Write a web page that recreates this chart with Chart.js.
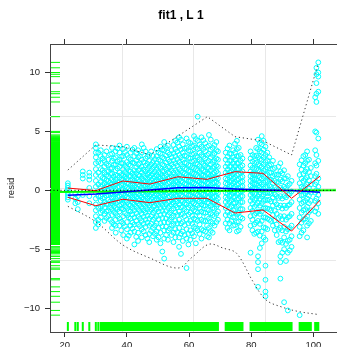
<!DOCTYPE html>
<html>
<head>
<meta charset="utf-8">
<script src="https://cdn.jsdelivr.net/npm/chart.js"></script>
<style>
  html, body { margin: 0; padding: 0; background: #fff; }
</style>
</head>
<body>
<canvas id="resid-chart" width="341" height="347"></canvas>
<script>
// AXES
var xRange = [15.25, 107.3];
var yRange = [-12.03, 12.42];
var xTicks = [20, 40, 60, 80, 100];
var yTicks = [-10, -5, 0, 5, 10];

// RESIDUALS, one column of values per x position
var colX = [
  21.0, 23.4, 24.2, 25.8, 27.9, 30.0, 30.8,
  31.6, 32.2, 32.8, 33.4, 34.0, 34.6, 35.2, 35.8, 36.4, 37.0, 37.6, 38.2, 38.8, 39.4,
  40.0, 40.6, 41.2, 41.8, 42.4, 43.0, 43.6, 44.2, 44.8, 45.4, 46.0, 46.6, 47.2, 47.8,
  48.4, 49.0, 49.6, 50.2, 50.8, 51.4, 52.0, 52.6, 53.2, 53.8, 54.4, 55.0, 55.6, 56.2,
  56.8, 57.4, 58.0, 58.6, 59.2, 59.8, 60.4, 61.0, 61.6, 62.2, 62.8, 63.4, 64.0, 64.6,
  65.2, 65.8, 66.4, 67.0, 67.6, 68.2, 68.8, 69.3,
  71.8, 72.4, 73.0, 73.6, 74.2, 74.8, 75.4, 76.0, 76.6, 77.2,
  79.8, 80.4, 81.0, 81.6, 82.2, 82.8, 83.4, 84.0, 84.6, 85.2, 85.8, 86.4, 87.0, 87.6,
  88.2, 88.8, 89.4, 90.0, 90.6, 91.2, 91.8, 92.4, 93.0,
  95.6, 96.2, 96.8, 97.4, 98.0, 98.6, 99.2,
  100.6, 101.0, 101.6
];
var colY = [
  [0.6, 0.4, 0.2, 0.0, -0.2, -0.4, -0.6, -0.8],
  [-0.3, -0.7, -1.1],
  [-0.5, -1.0, -1.6],
  [1.6, 1.3, 1.0, -0.4],
  [1.5, 1.2, 0.9, 0.2, -0.5, -1.1],
  [3.9, 3.6, 3.2, 2.8, 2.3, 1.8, 1.3, 0.8, 0.3, -0.2, -0.7, -1.2, -1.7, -2.2, -2.7, -3.2],
  [3.2, 2.4, 1.5, 0.5, -0.5, -1.5, -2.5, -2.9],
  // 31.6 .. 39.4
  [3.4, 2.9, 2.3, 1.8, 1.2, 0.7, 0.3, -0.1, -0.5, -0.9, -1.4, -1.9, -2.3],
  [2.7, 1.7, 1.05, 0.45, -0.05, -0.7, -1.25, -1.75],
  [3.0, 2.5, 2.0, 1.5, 1.0, 0.6, 0.2, -0.2, -0.6, -1.0, -1.5, -2.0, -2.6],
  [3.3, 2.25, 1.3, 0.85, 0.35, -0.15, -0.45, -1.15, -1.8, -2.35],
  [2.6, 2.1, 1.6, 1.2, 0.8, 0.4, 0.0, -0.4, -0.8, -1.2, -1.7, -2.2],
  [3.05, 1.85, 1.4, 0.65, 0.25, -0.3, -0.95, -1.45, -2.5],
  [3.6, 3.1, 2.5, 1.9, 1.4, 0.9, 0.5, 0.1, -0.3, -0.7, -1.1, -1.6, -2.1, -2.7, -3.2],
  [2.7, 2.15, 1.15, 0.75, 0.3, -0.15, -0.55, -0.95, -1.35, -1.85, -2.9],
  [3.3, 2.8, 2.2, 1.7, 1.3, 0.9, 0.5, 0.1, -0.3, -0.7, -1.1, -1.5, -2.0, -2.5, -3.0, -3.6],
  [3.55, 2.45, 1.85, 1.25, 0.7, 0.25, -0.2, -0.55, -1.0, -1.6, -2.2],
  [3.8, 3.2, 2.6, 2.0, 1.5, 1.1, 0.7, 0.3, -0.1, -0.5, -0.9, -1.3, -1.8, -2.4, -3.0],
  [2.85, 2.3, 1.3, 0.9, 0.45, 0.05, -0.35, -0.75, -1.2, -1.55, -2.65, -3.4],
  [3.5, 2.9, 2.3, 1.8, 1.3, 0.9, 0.5, 0.1, -0.3, -0.7, -1.1, -1.6, -2.2, -2.8, -3.8],
  [3.25, 2.05, 1.55, 1.15, 0.75, 0.35, -0.05, -0.45, -0.85, -1.35, -1.95, -3.05],
  // 40.0 .. 47.8
  [3.7, 3.0, 2.4, 1.9, 1.4, 1.0, 0.6, 0.2, -0.2, -0.6, -1.0, -1.5, -2.1, -2.7, -3.3, -4.1],
  [2.75, 2.2, 1.65, 1.2, 0.6, 0.15, -0.25, -0.65, -1.2, -1.7, -2.3, -3.85],
  [3.2, 2.6, 2.1, 1.6, 1.2, 0.8, 0.4, 0.0, -0.4, -0.8, -1.3, -1.8, -2.4, -3.0, -3.6],
  [3.45, 2.35, 1.45, 0.95, 0.55, 0.2, -0.2, -0.6, -1.05, -1.5, -2.05, -2.75, -3.25],
  [3.6, 2.9, 2.3, 1.7, 1.2, 0.8, 0.4, 0.0, -0.4, -0.8, -1.2, -1.7, -2.3, -2.9, -3.5, -4.6],
  [3.15, 2.55, 1.95, 1.45, 1.0, 0.6, 0.2, -0.2, -0.55, -0.95, -1.4, -1.95, -2.6, -3.95],
  [3.4, 2.8, 2.2, 1.7, 1.3, 0.9, 0.5, 0.1, -0.3, -0.7, -1.1, -1.6, -2.2, -2.9, -3.6, -4.3],
  [2.9, 2.3, 1.8, 1.25, 0.8, 0.4, -0.05, -0.45, -0.85, -1.25, -1.75, -2.4, -3.05],
  [3.9, 3.2, 2.6, 2.0, 1.5, 1.0, 0.6, 0.2, -0.2, -0.6, -1.0, -1.5, -2.0, -2.6, -3.3, -4.0],
  [3.6, 2.4, 1.75, 1.3, 0.85, 0.45, 0.05, -0.35, -0.75, -1.2, -1.7, -2.25, -2.85, -3.5],
  [3.3, 2.7, 2.1, 1.6, 1.1, 0.7, 0.3, -0.1, -0.5, -0.9, -1.4, -1.9, -2.5, -3.1, -3.8],
  [2.85, 2.25, 1.8, 1.35, 0.9, 0.5, 0.1, -0.3, -0.7, -1.15, -1.6, -2.15, -2.75, -4.1],
  [3.0, 2.5, 2.0, 1.5, 1.1, 0.7, 0.3, -0.1, -0.5, -0.9, -1.3, -1.8, -2.4, -3.0, -3.7, -4.4],
  [3.3, 2.2, 1.7, 1.25, 0.85, 0.45, 0.05, -0.35, -0.75, -1.15, -1.65, -2.2, -2.85, -3.45],
  // 48.4 .. 56.2
  [2.9, 2.4, 1.9, 1.4, 1.0, 0.6, 0.2, -0.2, -0.6, -1.0, -1.4, -1.9, -2.5, -3.2, -3.9],
  [2.65, 2.1, 1.6, 1.15, 0.75, 0.35, -0.05, -0.45, -0.85, -1.3, -1.75, -2.35, -3.0, -3.7],
  [3.5, 2.9, 2.3, 1.8, 1.3, 0.9, 0.5, 0.1, -0.3, -0.7, -1.1, -1.6, -2.2, -2.8, -3.5, -4.2],
  [3.2, 2.6, 2.05, 1.55, 1.15, 0.75, 0.35, -0.05, -0.45, -0.85, -1.25, -1.8, -2.45, -3.2, -4.0],
  [3.7, 3.1, 2.5, 1.9, 1.4, 1.0, 0.6, 0.2, -0.2, -0.6, -1.0, -1.5, -2.1, -2.8, -3.6, -4.5],
  [3.45, 2.8, 2.2, 1.65, 1.2, 0.8, 0.4, 0.0, -0.4, -0.8, -1.25, -1.75, -2.35, -3.05, -5.2],
  [4.1, 3.4, 2.7, 2.1, 1.6, 1.1, 0.7, 0.3, -0.1, -0.5, -0.9, -1.4, -2.0, -2.7, -3.4, -4.1, -5.8],
  [3.6, 2.95, 2.35, 1.8, 1.3, 0.85, 0.45, 0.05, -0.35, -0.75, -1.2, -1.75, -2.4, -3.1, -3.8],
  [3.8, 3.2, 2.6, 2.0, 1.5, 1.0, 0.6, 0.2, -0.2, -0.6, -1.0, -1.5, -2.1, -2.7, -3.4, -4.2],
  [3.05, 2.45, 1.95, 1.45, 1.05, 0.65, 0.25, -0.15, -0.55, -0.95, -1.35, -1.9, -2.5, -3.25],
  [3.4, 2.8, 2.2, 1.7, 1.2, 0.8, 0.4, 0.0, -0.4, -0.8, -1.2, -1.7, -2.3, -3.0, -3.8],
  [3.85, 3.15, 2.55, 2.0, 1.5, 1.05, 0.6, 0.2, -0.2, -0.6, -1.05, -1.55, -2.15, -2.85, -3.6, -4.4],
  [4.2, 3.5, 2.9, 2.3, 1.7, 1.2, 0.8, 0.4, 0.0, -0.4, -0.8, -1.3, -1.9, -2.6, -3.3, -4.0],
  [4.05, 3.3, 2.65, 2.1, 1.55, 1.1, 0.7, 0.3, -0.1, -0.5, -0.95, -1.45, -2.1, -2.8, -3.55],
  // 56.8 .. 64.6
  [4.5, 3.7, 3.0, 2.4, 1.8, 1.3, 0.9, 0.5, 0.1, -0.3, -0.7, -1.2, -1.8, -2.5, -3.2, -4.0, -4.8],
  [4.3, 3.45, 2.8, 2.2, 1.65, 1.2, 0.75, 0.35, -0.05, -0.45, -0.9, -1.45, -2.05, -2.8, -3.7, -5.4],
  [3.9, 3.2, 2.6, 2.0, 1.5, 1.1, 0.7, 0.3, -0.1, -0.5, -0.9, -1.4, -2.0, -2.7, -3.5, -4.3],
  [3.55, 2.95, 2.35, 1.85, 1.4, 0.95, 0.55, 0.15, -0.25, -0.65, -1.1, -1.6, -2.2, -2.95, -3.8],
  [4.4, 3.6, 2.9, 2.3, 1.8, 1.3, 0.9, 0.5, 0.1, -0.3, -0.7, -1.2, -1.8, -2.5, -3.3, -4.1, -6.6],
  [4.1, 3.4, 2.75, 2.15, 1.65, 1.15, 0.75, 0.35, -0.05, -0.45, -0.9, -1.45, -2.05, -2.8, -3.7, -4.6],
  [4.0, 3.3, 2.7, 2.1, 1.6, 1.2, 0.8, 0.4, 0.0, -0.4, -0.8, -1.3, -1.9, -2.6, -3.4, -4.2],
  [3.75, 3.05, 2.45, 1.95, 1.45, 1.05, 0.65, 0.25, -0.15, -0.55, -1.0, -1.5, -2.15, -2.85, -3.65],
  [4.6, 3.8, 3.1, 2.5, 1.9, 1.4, 1.0, 0.6, 0.2, -0.2, -0.6, -1.1, -1.7, -2.4, -3.1, -3.9],
  [4.35, 3.6, 2.9, 2.3, 1.8, 1.3, 0.9, 0.5, 0.1, -0.3, -0.7, -1.2, -1.8, -2.5, -3.25, -4.5],
  [6.25, 4.2, 3.5, 2.8, 2.2, 1.7, 1.2, 0.8, 0.4, 0.0, -0.4, -0.8, -1.3, -1.9, -2.6, -3.4],
  [3.9, 3.2, 2.6, 2.05, 1.55, 1.1, 0.7, 0.3, -0.1, -0.5, -0.95, -1.5, -2.15, -2.9, -3.7],
  [4.5, 3.7, 3.0, 2.4, 1.8, 1.3, 0.9, 0.5, 0.1, -0.3, -0.7, -1.2, -1.8, -2.5, -3.3, -4.1],
  [4.25, 3.5, 2.85, 2.25, 1.7, 1.25, 0.85, 0.45, 0.05, -0.35, -0.8, -1.3, -1.9, -2.6, -3.4],
  // 65.2 .. 69.3
  [4.0, 3.3, 2.7, 2.1, 1.6, 1.2, 0.8, 0.4, 0.0, -0.4, -0.8, -1.3, -1.9, -2.6, -3.5],
  [3.7, 3.0, 2.4, 1.9, 1.4, 1.0, 0.6, 0.2, -0.2, -0.6, -1.05, -1.6, -2.25, -3.0, -3.9],
  [4.7, 3.8, 3.1, 2.5, 1.9, 1.4, 1.0, 0.6, 0.2, -0.2, -0.6, -1.1, -1.7, -2.4, -3.2, -4.0],
  [4.3, 3.45, 2.8, 2.2, 1.7, 1.25, 0.85, 0.45, 0.05, -0.35, -0.8, -1.3, -1.95, -2.65, -3.45],
  [3.6, 3.0, 2.4, 1.9, 1.4, 1.0, 0.6, 0.2, -0.2, -0.6, -1.0, -1.5, -2.1, -2.8, -3.6],
  [3.85, 3.15, 2.55, 2.0, 1.5, 1.05, 0.65, 0.25, -0.15, -0.55, -1.0, -1.55, -2.2, -3.0],
  [4.1, 3.4, 2.7, 2.1, 1.6, 1.1, 0.7, 0.3, -0.1, -0.5, -0.9, -1.4, -2.0, -2.7],
  [3.3, 2.6, 2.0, 1.45, 1.0, 0.55, 0.15, -0.25, -0.7, -1.2, -1.8, -2.5],
  // 71.8 .. 77.2
  [3.2, 2.6, 2.0, 1.5, 1.0, 0.6, 0.2, -0.2, -0.6, -1.0, -1.5, -2.1, -2.8],
  [3.55, 2.85, 2.25, 1.75, 1.3, 0.9, 0.5, 0.1, -0.3, -0.75, -1.25, -1.85, -2.5, -3.2],
  [3.8, 3.1, 2.5, 2.0, 1.5, 1.1, 0.7, 0.3, -0.1, -0.5, -1.0, -1.5, -2.1, -2.8, -3.4],
  [3.1, 2.55, 2.05, 1.6, 1.2, 0.8, 0.4, 0.0, -0.4, -0.85, -1.35, -1.95, -2.6],
  [3.4, 2.8, 2.3, 1.8, 1.4, 1.0, 0.6, 0.2, -0.2, -0.6, -1.1, -1.7, -2.3, -3.0],
  [3.95, 3.2, 2.6, 2.05, 1.55, 1.1, 0.7, 0.3, -0.1, -0.55, -1.05, -1.6, -2.25, -2.95],
  [4.2, 3.5, 2.9, 2.3, 1.8, 1.3, 0.9, 0.5, 0.1, -0.3, -0.8, -1.4, -2.0, -2.7, -3.5],
  [3.6, 2.9, 2.3, 1.8, 1.35, 0.95, 0.55, 0.15, -0.25, -0.7, -1.25, -1.9, -2.65, -3.4],
  [3.0, 2.5, 2.0, 1.5, 1.1, 0.7, 0.3, -0.1, -0.5, -1.0, -1.6, -2.3, -3.1],
  [2.7, 2.1, 1.6, 1.15, 0.75, 0.35, -0.05, -0.5, -1.0, -1.6, -2.4],
  // 79.8 .. 87.6
  [3.3, 2.7, 2.1, 1.6, 1.2, 0.8, 0.4, 0.0, -0.4, -0.9, -1.5, -2.2, -3.0, -5.3],
  [3.0, 2.45, 1.9, 1.4, 1.0, 0.6, 0.2, -0.2, -0.65, -1.15, -1.75, -2.5, -3.4],
  [2.9, 2.3, 1.8, 1.3, 0.9, 0.5, 0.1, -0.3, -0.8, -1.4, -2.1, -2.9, -3.7],
  [3.6, 2.95, 2.35, 1.8, 1.35, 0.95, 0.55, 0.15, -0.25, -0.7, -1.25, -1.95, -2.75, -3.6],
  [4.3, 3.5, 2.8, 2.2, 1.7, 1.2, 0.8, 0.4, 0.0, -0.5, -1.1, -1.8, -2.6, -3.5, -5.6, -6.1, -6.7, -8.2],
  [4.0, 3.3, 2.65, 2.1, 1.6, 1.1, 0.65, 0.25, -0.2, -0.7, -1.3, -2.0, -2.85, -3.85, -4.9],
  [4.6, 3.9, 3.2, 2.6, 2.0, 1.5, 1.0, 0.5, 0.0, -0.5, -1.1, -1.8, -2.6, -3.5, -4.5],
  [4.2, 3.45, 2.8, 2.2, 1.65, 1.15, 0.65, 0.15, -0.35, -0.9, -1.55, -2.3, -3.15, -4.0],
  [3.7, 3.0, 2.4, 1.8, 1.3, 0.8, 0.3, -0.2, -0.8, -1.5, -2.3, -3.2, -4.2, -6.4, -7.6, -8.6, -9.0],
  [3.2, 2.55, 1.95, 1.35, 0.8, 0.3, -0.25, -0.85, -1.55, -2.4, -3.3],
  [2.8, 2.1, 1.5, 0.9, 0.4, -0.2, -0.8, -1.6, -2.5],
  [2.2, 1.5, 0.9, 0.3, -0.3, -0.95, -1.7, -2.6],
  [2.5, 1.8, 1.2, 0.6, 0.0, -0.6, -1.3, -2.1, -3.0],
  [1.9, 1.35, 0.8, 0.25, -0.35, -1.0, -1.75, -2.55, -3.4],
  // 88.2 .. 93.0
  [1.3, 0.7, 0.1, -0.5, -1.2, -2.0, -2.9, -3.8],
  [2.0, 1.35, 0.7, 0.05, -0.65, -1.45, -2.35, -3.35, -4.4],
  [2.3, 1.6, 0.9, 0.2, -0.5, -1.3, -2.2, -3.2, -4.3, -5.6, -6.1, -7.5],
  [1.45, 0.75, 0.05, -0.7, -1.55, -2.45, -3.4, -4.45, -5.3],
  [1.7, 1.0, 0.3, -0.5, -1.3, -2.2, -3.1, -4.0, -5.0, -9.5],
  [1.0, 0.2, -0.6, -1.5, -2.5, -3.5, -4.55, -6.0],
  [1.2, 0.4, -0.4, -1.3, -2.3, -3.3, -4.3, -5.3, -10.2],
  [0.55, -0.3, -1.2, -2.2, -3.2, -4.2, -5.1],
  [0.8, -0.1, -1.0, -2.0, -3.0, -3.9, -4.8],
  // 95.6 .. 101.6
  [2.2, 1.3, 0.6, -0.1, -0.8, -1.5, -2.3, -3.1, -3.9, -10.6],
  [2.55, 1.75, 1.0, 0.3, -0.4, -1.1, -1.9, -2.75, -3.6],
  [2.9, 2.1, 1.4, 0.8, 0.2, -0.4, -1.0, -1.7, -2.5, -3.4],
  [3.0, 2.3, 1.6, 0.95, 0.35, -0.25, -0.9, -1.6, -2.4],
  [3.3, 2.5, 1.8, 1.1, 0.5, -0.1, -0.7, -1.4, -2.2, -3.0, -4.0],
  [2.6, 1.55, 0.85, 0.2, -0.45, -1.1, -1.85, -2.8],
  [1.9, 1.2, 0.5, -0.2, -0.9, -1.7, -2.6],
  [7.9, 5.0, 3.4, 2.3, 1.2, 0.5, -0.2, -0.9, -1.8],
  [10.4, 9.85, 9.1, 8.2, 7.5, 4.9, 3.0, 2.1, 1.4, 0.7, 0.0, -0.7, -1.5],
  [10.86, 10.0, 9.65, 8.37, 4.4, 2.5, 1.0, 0.3, -0.4, -1.1, -2.0]
];

// BINNED SUMMARIES
var binX = [21.0, 30.0, 38.7, 47.4, 56.4, 65.8, 74.8, 83.8, 93.0, 102.2];
var upperQuart = [0.19, -0.03, 0.79, 0.53, 1.15, 0.93, 1.58, 1.44, -0.68, 1.21];
var lowerQuart = [-0.59, -1.31, -0.76, -1.05, -0.68, -0.68, -1.93, -1.67, -3.46, -0.82];
var binMean = [-0.42, -0.31, -0.14, 0.03, 0.21, 0.24, 0.11, 0.03, -0.02, -0.17];

// DOTTED ENVELOPE
var upperEnvX = [21.0, 30.0, 38.7, 47.4, 56.4, 65.9, 74.8, 83.8, 93.0, 101.6];
var upperEnv = [1.72, 3.85, 3.70, 3.0, 4.6, 6.25, 4.55, 4.2, 3.0, 10.8];
var lowerEnvX = [21.0, 30.0, 38.7, 47.4, 56.4, 61.1, 66.4, 71.1, 75.3, 80.6, 84.8, 90.1, 95.4, 101.2];
var lowerEnv = [-1.36, -2.67, -4.64, -5.75, -6.6, -5.66, -4.58, -4.92, -5.35, -7.76, -9.31, -9.93, -10.3, -10.53];

// REFERENCE LINES
var fitY = [-0.15, 0.0];
var zeroY = [0, 0];

function pairs(xs, ys) {
  return xs.map(function (x, i) { return { x: x, y: ys[i] }; });
}

var points = [];
colX.forEach(function (x, i) {
  colY[i].forEach(function (y) { points.push({ x: x, y: y }); });
});

Chart.defaults.font.family = "'Liberation Sans', Arial, sans-serif";
Chart.defaults.color = "#222";

var axisLine = {
  grid: { drawOnChartArea: false, drawTicks: true, tickLength: 5, tickColor: "#333", lineWidth: 1 },
  border: { display: true, color: "#444", width: 1 },
};

// grid at quarter positions, rugs, title
var panelDecor = {
  id: "panelDecor",
  beforeDatasetsDraw: function (chart) {
    var ctx = chart.ctx, a = chart.chartArea;
    var x = chart.scales.x, y = chart.scales.y;
    ctx.save();
    ctx.strokeStyle = "#e8e8e8";
    ctx.lineWidth = 1;
    ctx.beginPath();
    for (var k = 1; k < 4; k++) {
      var px = Math.round(x.getPixelForValue(x.min + (k * (x.max - x.min)) / 4)) + 0.5;
      var py = Math.round(y.getPixelForValue(y.min + (k * (y.max - y.min)) / 4)) + 0.5;
      ctx.moveTo(px, a.top); ctx.lineTo(px, a.bottom);
      ctx.moveTo(a.left, py); ctx.lineTo(a.right, py);
    }
    ctx.stroke();

    ctx.strokeStyle = "#00ff00";
    ctx.lineWidth = 1;
    ctx.beginPath();
    points.forEach(function (p) {
      var py = y.getPixelForValue(p.y);
      ctx.moveTo(a.left + 1, py); ctx.lineTo(a.left + 10, py);
    });
    ctx.stroke();
    ctx.lineWidth = 2;
    ctx.beginPath();
    colX.forEach(function (v) {
      var px = x.getPixelForValue(v);
      ctx.moveTo(px, a.bottom - 1); ctx.lineTo(px, a.bottom - 10);
    });
    ctx.stroke();
    ctx.restore();
  },
  afterDraw: function (chart) {
    var ctx = chart.ctx;
    ctx.save();
    ctx.font = "bold 12px 'Liberation Sans', Arial, sans-serif";
    ctx.fillStyle = "#000";
    ctx.textAlign = "center";
    ctx.textBaseline = "middle";
    ctx.fillText("fit1 , L 1", 181, 16);
    ctx.restore();
  },
};

var ctx = document.getElementById("resid-chart").getContext("2d");
var chart = new Chart(ctx, {
  type: "scatter",
  data: {
    datasets: [
      {
        data: pairs(xRange, zeroY),
        showLine: true, pointRadius: 0, borderColor: "#000", borderWidth: 1,
        borderDash: [1, 2.5], order: 0,
      },
      {
        data: pairs(binX, upperQuart),
        showLine: true, pointRadius: 0, borderColor: "#ff0000", borderWidth: 1, order: 1,
      },
      {
        data: pairs(binX, lowerQuart),
        showLine: true, pointRadius: 0, borderColor: "#ff0000", borderWidth: 1, order: 1,
      },
      {
        data: pairs(binX, binMean),
        showLine: true, pointRadius: 0, borderColor: "#0000ff", borderWidth: 1.5, order: 2,
      },
      {
        data: pairs(xRange, fitY),
        showLine: true, pointRadius: 0, borderColor: "#00ff00", borderWidth: 2, order: 3,
      },
      {
        data: pairs(upperEnvX, upperEnv),
        showLine: true, pointRadius: 0, borderColor: "#333", borderWidth: 1,
        borderDash: [1.2, 2.8], order: 4,
      },
      {
        data: pairs(lowerEnvX, lowerEnv),
        showLine: true, pointRadius: 0, borderColor: "#333", borderWidth: 1,
        borderDash: [1.2, 2.8], tension: 0.35, order: 4,
      },
      {
        data: points,
        pointRadius: 2.4, pointBorderWidth: 1, pointBorderColor: "#00ffff",
        pointBackgroundColor: "rgba(0,0,0,0)", order: 10,
      },
    ],
  },
  options: {
    responsive: false,
    animation: false,
    events: [],
    plugins: { legend: { display: false }, tooltip: { enabled: false } },
    layout: { padding: 0 },
    scales: {
      x: Object.assign({}, axisLine, {
        type: "linear", position: "bottom", min: xRange[0], max: xRange[1],
        afterBuildTicks: function (s) { s.ticks = xTicks.map(function (v) { return { value: v }; }); },
        afterFit: function (s) { s.height = 15; },
        ticks: { padding: 3, autoSkip: false, maxRotation: 0, font: { size: 9.5 },
          callback: function (v) { return String(v); } },
      }),
      xTop: Object.assign({}, axisLine, {
        type: "linear", position: "top", min: xRange[0], max: xRange[1],
        afterBuildTicks: function (s) { s.ticks = xTicks.map(function (v) { return { value: v }; }); },
        afterFit: function (s) { s.height = 44; },
        ticks: { display: false },
      }),
      y: Object.assign({}, axisLine, {
        type: "linear", position: "left", min: yRange[0], max: yRange[1],
        afterBuildTicks: function (s) { s.ticks = yTicks.map(function (v) { return { value: v }; }); },
        afterFit: function (s) { s.width = 50; },
        ticks: { padding: 5, autoSkip: false, font: { size: 9.5 },
          callback: function (v) { return v < 0 ? "\u2212" + Math.abs(v) : String(v); } },
        title: { display: true, text: "resid", font: { size: 9.5 }, padding: { top: 6, bottom: 0 } },
      }),
    },
  },
  plugins: [panelDecor],
});
</script>
</body>
</html>
